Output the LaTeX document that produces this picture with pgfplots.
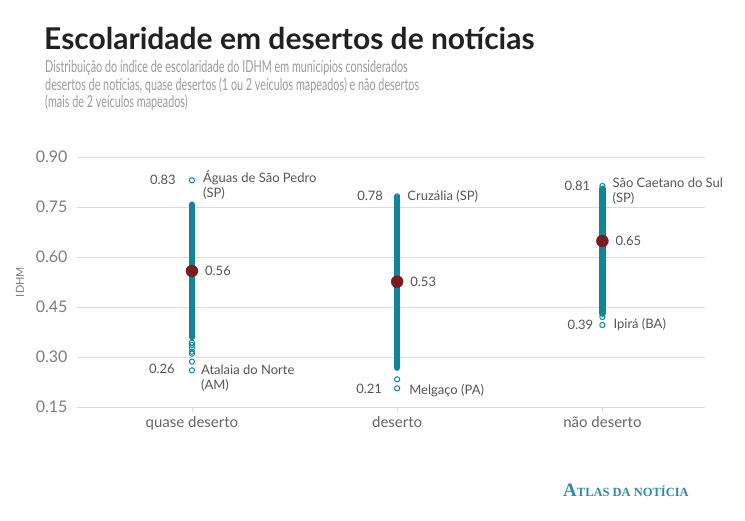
\documentclass[border=0pt]{standalone}
\usepackage{pgfplots}
\pgfplotsset{compat=1.18}
\usepackage{fontspec}
\setmainfont{Lato}
\newfontfamily\subfont[FakeStretch=0.655]{Lato}
\newfontfamily\logofont{Liberation Serif}
\definecolor{teal1}{RGB}{16,134,150}
\definecolor{meanred}{RGB}{125,27,35}
\definecolor{gridc}{RGB}{220,220,220}
\definecolor{annot}{RGB}{85,85,85}
\definecolor{tickc}{RGB}{125,125,125}
\definecolor{subc}{RGB}{155,155,155}
\definecolor{logoc}{RGB}{50,140,152}
\begin{document}
\begin{tikzpicture}
\path[use as bounding box] (0pt,0pt) rectangle (745pt,-520pt);
\node[anchor=base west, inner sep=0, font=\fontsize{30}{32}\selectfont\bfseries, text=black!87] at (44pt,-49pt) {Escolaridade em desertos de notícias};
\begin{scope}[every node/.style={anchor=base west, inner sep=0, font=\subfont\fontsize{16.5}{18}\selectfont, text=subc}]
\node at (45pt,-72.5pt) {Distribuição do índice de escolaridade do IDHM em municípios considerados};
\node at (45pt,-90pt) {desertos de notícias, quase desertos (1 ou 2 veículos mapeados) e não desertos};
\node at (45pt,-107.5pt) {(mais de 2 veículos mapeados)};
\end{scope}
\node[rotate=90, font=\fontsize{11}{12}\selectfont, text=tickc] at (20pt,-282pt) {IDHM};
\begin{axis}[at={(77pt,-407pt)}, anchor=south west, scale only axis, width=628pt, height=250pt,
  xmin=-0.56, xmax=2.5, ymin=0.15, ymax=0.9,
  xtick={0,1,2}, xticklabels={quase deserto, deserto, não deserto},
  ytick={0.15,0.30,0.45,0.60,0.75,0.90},
  yticklabel style={/pgf/number format/fixed, /pgf/number format/fixed zerofill, /pgf/number format/precision=2, font=\fontsize{16}{18}\selectfont, text=tickc, xshift=-1pt},
  xticklabel style={font=\fontsize{15}{18}\selectfont, text=annot!90, yshift=-1pt},
  /pgf/number format/assume math mode=true,
  ymajorgrids, grid style={gridc, line width=0.8pt},
  separate axis lines,
  axis x line*=bottom, axis y line*=left,
  x axis line style={gridc, line width=0.8pt, -},
  y axis line style={draw=none},
  ytick style={draw=none},
  xtick style={gridc, line width=0.8pt},
  tick align=outside, major tick length=5pt,
  clip=false]
% dense columns
\addplot[teal1, line width=6.5pt, line cap=round] coordinates {(0,0.36) (0,0.757)};
\addplot[teal1, line width=6.5pt, line cap=round] coordinates {(1,0.268) (1,0.778)};
\addplot[teal1, line width=6.5pt, line cap=round] coordinates {(2,0.43) (2,0.805)};
% individual points
\addplot[only marks, mark=o, mark size=2.6pt, teal1, line width=1pt, mark options={fill=white}] coordinates {
 (0,0.83) (0,0.343) (0,0.336) (0,0.327) (0,0.316) (0,0.31) (0,0.286) (0,0.26)
 (1,0.782) (1,0.30) (1,0.286) (1,0.233) (1,0.206)
 (2,0.813) (2,0.44) (2,0.42) (2,0.396)};
% means
\addplot[only marks, mark=*, mark size=6pt, meanred] coordinates {(0,0.558) (1,0.526) (2,0.648)};
% annotations
\begin{scope}[every node/.style={font=\fontsize{13}{15}\selectfont, text=annot, inner sep=0}]
\node[anchor=east, xshift=-16pt] at (axis cs:0,0.83) {0.83};
\node[anchor=north west, align=left, xshift=11pt, yshift=10pt] at (axis cs:0,0.83) {Águas de São Pedro\\(SP)};
\node[anchor=west, xshift=13pt] at (axis cs:0,0.558) {0.56};
\node[anchor=east, xshift=-17pt, yshift=1pt] at (axis cs:0,0.26) {0.26};
\node[anchor=north west, align=left, xshift=9pt, yshift=6pt] at (axis cs:0,0.26) {Atalaia do Norte\\(AM)};
\node[anchor=east, xshift=-14pt] at (axis cs:1,0.782) {0.78};
\node[anchor=west, xshift=10pt] at (axis cs:1,0.782) {Cruzália (SP)};
\node[anchor=west, xshift=13pt] at (axis cs:1,0.526) {0.53};
\node[anchor=east, xshift=-15pt] at (axis cs:1,0.206) {0.21};
\node[anchor=west, xshift=12pt, yshift=-2pt] at (axis cs:1,0.206) {Melgaço (PA)};
\node[anchor=east, xshift=-12pt] at (axis cs:2,0.813) {0.81};
\node[anchor=north west, align=left, xshift=10pt, yshift=8pt] at (axis cs:2,0.813) {São Caetano do Sul\\(SP)};
\node[anchor=west, xshift=13pt] at (axis cs:2,0.648) {0.65};
\node[anchor=east, xshift=-9pt] at (axis cs:2,0.396) {0.39};
\node[anchor=west, xshift=11pt] at (axis cs:2,0.396) {Ipirá (BA)};
\end{scope}
\end{axis}
\node[anchor=base west, inner sep=0, text=logoc] at (563pt,-496pt) {\logofont\bfseries{\fontsize{19}{19}\selectfont A}{\fontsize{12.5}{12.5}\selectfont TLAS DA NOTÍCIA}};
\end{tikzpicture}
\end{document}
